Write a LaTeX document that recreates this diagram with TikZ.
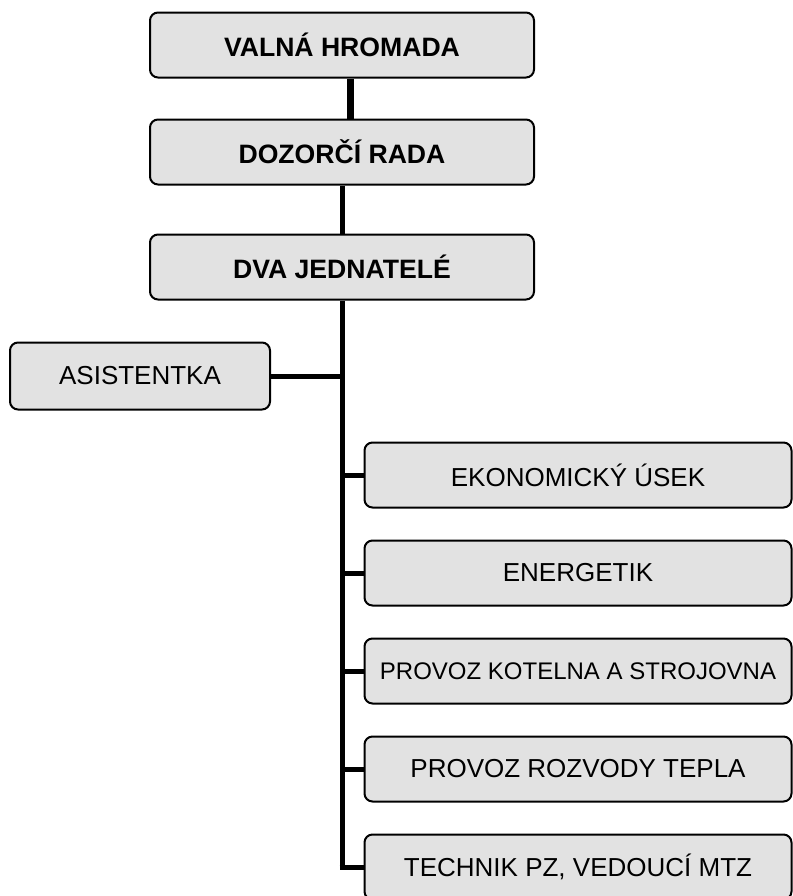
\documentclass[tikz,border=0pt]{standalone}
\usepackage{fontspec}
\setmainfont{Liberation Sans}
\usepackage{xcolor}
\usepackage{tikz}
\usetikzlibrary{positioning}
\definecolor{boxfill}{RGB}{226, 226, 226}
\tikzstyle{board} = [rectangle, draw, line width=1pt, fill=boxfill, rounded corners=4pt, minimum width=192pt, minimum height=32.5pt, font=\fontsize{13.3}{15}\selectfont\bfseries]
\tikzstyle{staff} = [rectangle, draw, line width=1pt, fill=boxfill, rounded corners=4pt, minimum height=32.5pt, font=\fontsize{13}{15}\selectfont]
\tikzstyle{dept} = [staff, minimum width=213.5pt, node distance=15.5pt]
\tikzstyle{line} = [draw, line width=2.5pt]

\begin{document}
\begin{tikzpicture}[x=0.5pt, y=-0.5pt]
    \useasboundingbox (0,0) rectangle (793,896);
    \node [board] (valna) at (342,45) {VALNÁ HROMADA};
    \node [board, below=20pt of valna] (dozorci) {DOZORČÍ RADA};
    \node [board, below=24pt of dozorci] (jednatele) {DVA JEDNATELÉ};
    \node [staff, minimum width=130pt, minimum height=33.5pt] (asist) at (140,376) {ASISTENTKA};
    \node [dept] (ekon) at (578,475) {EKONOMICKÝ ÚSEK};
    \node [dept, below=of ekon] (energ) {ENERGETIK};
    \node [dept, below=of energ, inner xsep=1pt, font=\fontsize{12}{14}\selectfont] (kotel) {PROVOZ KOTELNA A STROJOVNA};
    \node [dept, below=of kotel] (rozvod) {PROVOZ ROZVODY TEPLA};
    \node [dept, below=of rozvod] (techn) {TECHNIK PZ, VEDOUCÍ MTZ};

    \path [line, line width=3.5pt] ([xshift=4pt]valna.south) -- ([xshift=4pt]dozorci.north);
    \path [line] (dozorci) -- (jednatele);
    \path [line] (jednatele.south) -- (jednatele.south |- techn.west);
    \path [line] (asist.east) -- (asist.east -| jednatele.south);
    \path [line] (jednatele.south |- ekon.west) -- (ekon.west);
    \path [line] (jednatele.south |- energ.west) -- (energ.west);
    \path [line] (jednatele.south |- kotel.west) -- (kotel.west);
    \path [line] (jednatele.south |- rozvod.west) -- (rozvod.west);
    \path [line] ([xshift=-1.25pt]jednatele.south |- techn.west) -- (techn.west);
\end{tikzpicture}
\end{document}
